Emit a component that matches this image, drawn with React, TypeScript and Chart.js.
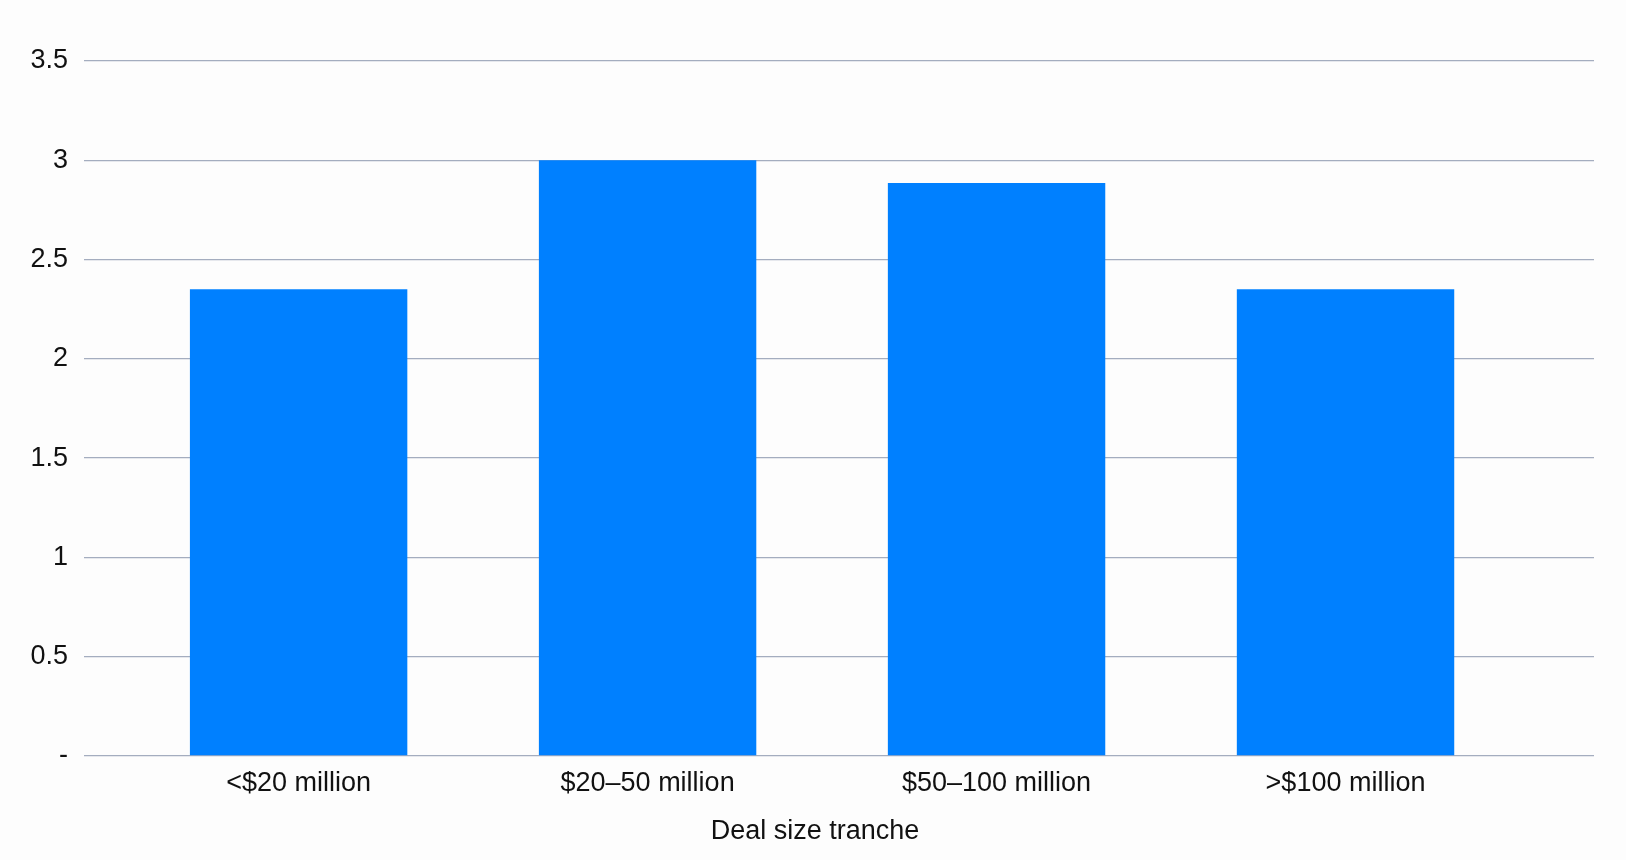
import { Chart, registerables } from 'chart.js';
import type { Plugin } from 'chart.js';
import { useEffect, useRef } from 'react';

Chart.register(...registerables);

// Chart data
const tranches = ['<$20 million', '$20\u201350 million', '$50\u2013100 million', '>$100 million'];
const tranchePositions = [0, 1, 2, 3];
const values = [2.35, 3.0, 2.885, 2.35];
const yTickLabels: Record<string, string> = {
  '0': '-',
  '0.5': '0.5',
  '1': '1',
  '1.5': '1.5',
  '2': '2',
  '2.5': '2.5',
  '3': '3',
  '3.5': '3.5',
};
const xAxisTitle = 'Deal size tranche';

const FONT = "'Liberation Sans', Arial, sans-serif";

// The axis title sits under the middle of the bar group, not the middle of the plot
const xTitlePlugin: Plugin<'bar'> = {
  id: 'xTitle',
  afterDraw(chart) {
    const x = chart.scales.x;
    const mid = (x.getPixelForValue(tranchePositions[0]) +
      x.getPixelForValue(tranchePositions[tranchePositions.length - 1])) / 2;
    const ctx = chart.ctx;
    ctx.save();
    ctx.font = `27px ${FONT}`;
    ctx.fillStyle = '#111';
    ctx.textAlign = 'center';
    ctx.textBaseline = 'middle';
    ctx.fillText(xAxisTitle, mid - 7, x.bottom - 28);
    ctx.restore();
  },
};

export default function App() {
  const canvasRef = useRef<HTMLCanvasElement | null>(null);

  useEffect(() => {
    if (!canvasRef.current) return;

    const chart = new Chart(canvasRef.current, {
      type: 'bar',
      data: {
        datasets: [
          {
            label: 'Value',
            data: tranchePositions.map((x, i) => ({ x, y: values[i] })),
            backgroundColor: '#0080ff',
            borderWidth: 0,
            categoryPercentage: 1,
            barPercentage: 0.623,
          },
        ],
      },
      options: {
        animation: false,
        responsive: false,
        maintainAspectRatio: false,
        layout: { padding: { top: 61, right: 32, left: 0, bottom: 0 } },
        plugins: {
          legend: { display: false },
          tooltip: { enabled: false },
        },
        scales: {
          x: {
            type: 'linear',
            offset: false,
            min: -0.615,
            max: 3.712,
            afterBuildTicks: (scale) => {
              scale.ticks = tranchePositions.map((v) => ({ value: v }));
            },
            afterFit: (scale) => {
              scale.height = 104;
            },
            grid: { display: false, drawTicks: false },
            border: { display: false },
            ticks: {
              padding: 11,
              color: '#111',
              font: { family: FONT, size: 27 },
              callback: (value) => tranches[Number(value)] ?? '',
            },
          },
          y: {
            min: 0,
            max: 3.5,
            afterFit: (scale) => {
              scale.width = 84;
            },
            grid: {
              color: '#a4adbf',
              lineWidth: 1.3,
              drawTicks: false,
            },
            border: { display: false },
            ticks: {
              stepSize: 0.5,
              padding: 16,
              color: '#111',
              font: { family: FONT, size: 27 },
              callback: (value) => yTickLabels[String(value)] ?? String(value),
            },
          },
        },
      },
      plugins: [xTitlePlugin],
    });

    return () => {
      chart.destroy();
    };
  }, []);

  return (
    <div
      style={{
        position: 'absolute',
        left: 0,
        top: 0,
        width: 1626,
        height: 860,
        background: '#fdfdfd',
      }}
    >
      <canvas ref={canvasRef} width={1626} height={860}></canvas>
    </div>
  );
}
